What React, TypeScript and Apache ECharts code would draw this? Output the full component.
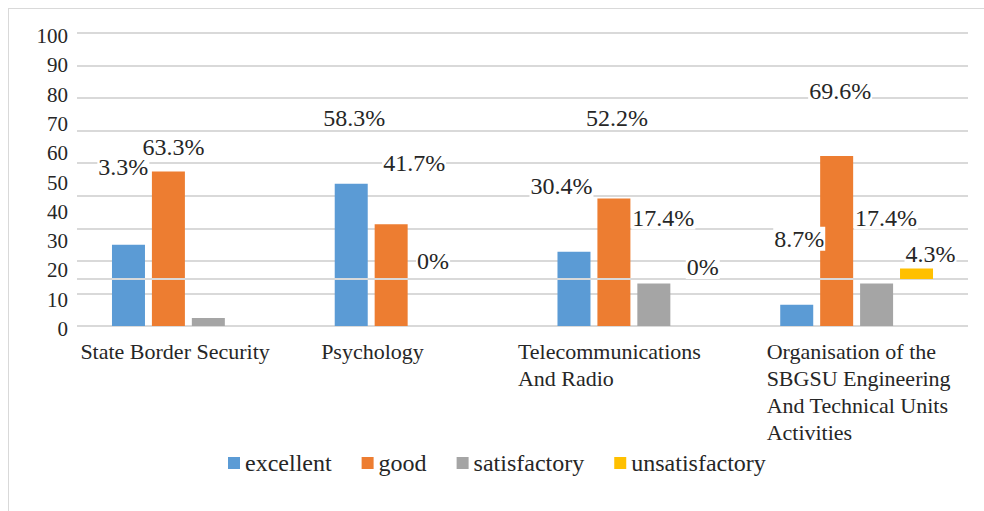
import React, { useEffect, useRef, useState } from "react";
import * as echarts from "echarts";

const categories = [
  "State Border Security",
  "Psychology",
  "Telecommunications\nAnd Radio",
  "Organisation of the\nSBGSU Engineering\nAnd Technical Units\nActivities",
];
const seriesNames = ["excellent", "good", "satisfactory", "unsatisfactory"];
const excellent = [33.3, 58.3, 30.4, 8.7];
const good = [63.3, 41.7, 52.2, 69.6];
const satisfactory = [3.3, 0, 17.4, 17.4];
const unsatisfactory = [0, 0, 0, 4.3];

const excellentLabels = ["", "58.3%", "30.4%", "8.7%"];
const goodLabels = ["63.3%", "41.7%", "52.2%", "69.6%"];
const satisfactoryLabels = ["3.3%", "0%", "17.4%", "17.4%"];
const unsatisfactoryLabels = ["", "", "0%", "4.3%"];

// label offsets (style only)
const excOffsets = [[0, 0], [3, -54], [-12.5, -54], [2.5, -54]];
const goodOffsets = [[5, -12], [23, -49], [3, -69], [3.5, -53]];
const satOffsets = [[-85, -139], [2, -53], [9.5, -54], [9.5, -54]];
const unsatOffsets = [[0, 0], [0, 0], [9, 0], [14, -2.5]];
const catShift = [-108, -90, -116, -90];

const colors = ["#5b9bd5", "#ed7d31", "#a5a5a5", "#ffc000"];
const FONT = "Liberation Serif";
const TEXT = "#262626";

function makeSeries(name: string, values: number[], labels: string[], offsets: number[][], color: string, yAxisIndex: number) {
  return {
    name,
    type: "bar",
    yAxisIndex,
    barWidth: 33,
    barGap: "21%",
    itemStyle: { color },
    data: values.map((v, i) => ({
      value: v,
      label: { show: labels[i] !== "", offset: offsets[i] },
    })),
    label: {
      show: true,
      position: "top",
      distance: 0,
      formatter: (p: any) => labels[p.dataIndex],
      fontFamily: FONT,
      fontSize: 24,
      lineHeight: 24,
      color: TEXT,
      backgroundColor: "#ffffff",
      padding: [0, 1],
    },
  } as any;
}

function buildOption(): any {
  const rich: any = {};
  catShift.forEach((d, i) => {
    rich["c" + i] = { fontFamily: FONT, fontSize: 22, lineHeight: 27, color: TEXT, padding: [0, 0, 0, d] };
  });
  const unsatSeries = makeSeries("unsatisfactory", unsatisfactory, unsatisfactoryLabels, unsatOffsets, colors[3], 2);
  unsatSeries.z = 5;
  unsatSeries.markLine = {
    silent: true,
    symbol: "none",
    label: { show: false },
    lineStyle: { color: "#d9d9d9", width: 2, type: "solid" },
    data: [{ yAxis: 0 }],
  };
  return {
    animation: false,
    grid: { left: 77, right: 16, top: 33, bottom: 185 },
    legend: {
      data: seriesNames,
      left: 223,
      top: 446,
      icon: "rect",
      itemWidth: 12,
      itemHeight: 12,
      itemGap: 30,
      selectedMode: false,
      textStyle: { fontFamily: FONT, fontSize: 24, color: TEXT },
    },
    xAxis: {
      type: "category",
      data: categories,
      axisLine: { show: false },
      axisTick: { show: false },
      axisLabel: {
        align: "left",
        margin: 12,
        interval: 0,
        formatter: (v: string, i: number) => v.split("\n").map((l) => "{c" + i + "|" + l + "}").join("\n"),
        rich,
      },
    },
    yAxis: [
      {
        type: "value",
        min: 0,
        max: 120,
        interval: 40 / 3,
        axisLabel: { show: false },
        axisLine: { show: false },
        axisTick: { show: false },
        splitLine: { lineStyle: { color: "#d9d9d9", width: 2 } },
      },
      {
        type: "value",
        min: 0,
        max: 100,
        interval: 10,
        position: "left",
        axisLine: { show: false },
        axisTick: { show: false },
        splitLine: { show: false },
        axisLabel: {
          margin: 9,
          formatter: (v: number) => "{y|" + v + "}",
          rich: { y: { fontFamily: FONT, fontSize: 21, color: TEXT, padding: [6, 0, 0, 0] } },
        },
      },
      { type: "value", min: -19.3, max: 100.7, show: false, splitLine: { show: false } },
    ],
    series: [
      makeSeries("excellent", excellent, excellentLabels, excOffsets, colors[0], 0),
      makeSeries("good", good, goodLabels, goodOffsets, colors[1], 0),
      makeSeries("satisfactory", satisfactory, satisfactoryLabels, satOffsets, colors[2], 0),
      unsatSeries,
    ],
  };
}

export default function App() {
  const ref = useRef<HTMLDivElement>(null);
  const [tick, setTick] = useState(0);
  useEffect(() => {
    if (!ref.current) return;
    const chart = echarts.init(ref.current, null, { renderer: "svg" });
    chart.setOption(buildOption());
    setTick(1);
    let alive = true;
    const redraw = () => {
      if (alive) chart.setOption(buildOption(), true);
    };
    const t = setTimeout(redraw, 60);
    if ((document as any).fonts && (document as any).fonts.ready) {
      (document as any).fonts.ready.then(redraw);
    }
    return () => {
      alive = false;
      clearTimeout(t);
      chart.dispose();
    };
  }, []);
  return (
    <>
      <div ref={ref} style={{ position: "absolute", left: 0, top: 0, width: 984, height: 511, opacity: 0.999 }} />
      <div style={{ position: "absolute", left: 8, top: 8, width: 976, height: 0, borderTop: "1.5px solid #d9d9d9" }} />
      <div style={{ position: "absolute", left: 8, top: 8, width: 0, height: 503, borderLeft: "1.5px solid #d9d9d9" }} />
      <span data-t={tick} style={{ position: "absolute", left: 500, top: 500, fontFamily: "'Liberation Serif'", fontSize: 2, opacity: 0.01 }}>.</span>
    </>
  );
}
